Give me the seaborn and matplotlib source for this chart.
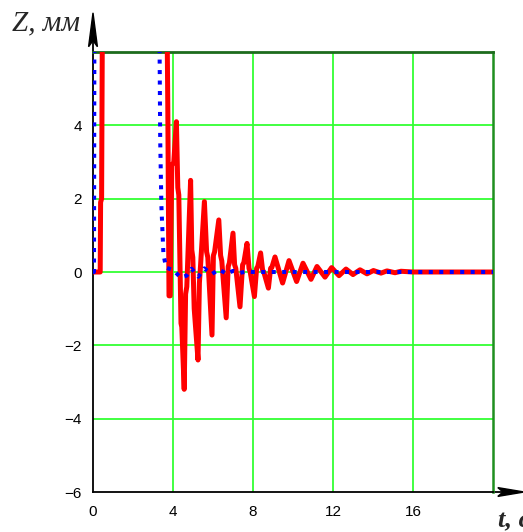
import numpy as np
import pandas as pd
import matplotlib
matplotlib.use("Agg")
import matplotlib.pyplot as plt
from matplotlib.patches import Polygon
import seaborn as sns

# ---- data ----
red_t = [0.00, 0.36, 0.38, 0.43, 0.47, 3.70, 3.74, 3.80, 3.86, 3.94, 4.04, 4.17,
         4.24, 4.29, 4.40, 4.44, 4.56, 4.63, 4.69, 4.88, 4.94, 4.99, 5.06, 5.25,
         5.32, 5.38, 5.57, 5.68, 5.74, 5.95, 6.02, 6.08, 6.29, 6.38, 6.44, 6.66,
         6.76, 6.82, 7.00, 7.08, 7.14, 7.35, 7.48, 7.54, 7.70, 7.80, 7.86, 8.07,
         8.18, 8.24, 8.38, 8.48, 8.54, 8.77, 8.88, 8.94, 9.10, 9.48, 9.80, 10.18,
         10.50, 10.90, 11.20, 11.60, 11.93, 12.30, 12.65, 13.00, 13.35, 13.70,
         14.02, 14.40, 14.70, 15.10, 15.40, 16.00, 20.00]
red_z = [0.00, 0.00, 1.90, 2.00, 7.00, 7.00, 4.50, -0.65, -0.65, 2.90, 3.00, 4.10,
         2.30, 2.10, -1.40, -1.50, -3.20, -0.60, -0.40, 2.50, 0.60, 0.40, -1.00, -2.40,
         -0.30, 0.20, 1.92, 0.55, 0.40, -1.72, 0.45, 0.55, 1.42, 0.45, 0.30, -1.25,
         0.15, 0.25, 1.06, 0.20, 0.10, -0.95, 0.20, 0.25, 0.78, 0.10, 0.00, -0.67,
         0.10, 0.15, 0.52, 0.05, 0.00, -0.44, 0.10, 0.12, 0.41, -0.30, 0.31, -0.26,
         0.24, -0.20, 0.15, -0.14, 0.12, -0.10, 0.08, -0.07, 0.06, -0.05,
         0.04, -0.03, 0.03, -0.02, 0.02, 0.00, 0.00]

blue_t = [0.00, 0.05, 0.07, 3.30, 3.33, 3.36, 3.42, 3.52, 3.65, 4.02, 4.38, 4.68,
          4.93, 5.27, 5.57, 5.93, 6.30, 6.68, 7.00, 7.35, 7.70, 8.00, 20.00]
blue_z = [0.00, 0.00, 7.00, 7.00, 6.00, 3.60, 1.80, 0.50, 0.12, 0.05, -0.15, -0.10,
          0.09, -0.13, 0.10, -0.06, 0.07, -0.05, 0.03, -0.02, 0.01, 0.00, 0.00]

x_ticks = [0, 4, 8, 12, 16]
y_ticks = [-6, -4, -2, 0, 2, 4]
y_grid = [-4, -2, 0, 2, 4]
x_grid = [4, 8, 12, 16]
x_label = "t, с"
y_label = "Z, мм"

red_df = pd.DataFrame({"t": red_t, "z": red_z})
blue_df = pd.DataFrame({"t": blue_t, "z": blue_z})

sns.set_style("white")
plt.rcParams["font.family"] = ["Liberation Sans", "DejaVu Sans"]

fig = plt.figure(figsize=(5.23, 5.32), dpi=100)
ax = fig.add_axes([93 / 523, 40 / 532, 400 / 523, 440 / 532])

GRID = "#33ff33"
for gx in x_grid:
    ax.axvline(gx, color=GRID, lw=1.3, zorder=1)
for gy in y_grid:
    ax.axhline(gy, color=GRID, lw=1.3, zorder=1)

sns.lineplot(data=red_df, x="t", y="z", ax=ax, estimator=None, sort=False,
             color="#ff0000", lw=3.6, zorder=3)
sns.lineplot(data=blue_df, x="t", y="z", ax=ax, estimator=None, sort=False,
             color="#0000ff", lw=2.9, zorder=4)
ax.lines[-1].set_linestyle((0, (1, 1.6)))
ax.lines[-1].set_dash_capstyle("butt")

ax.set_xlim(0, 20)
ax.set_ylim(-6, 6)
ax.set_xticks(x_ticks)
ax.set_yticks(y_ticks)
ax.set_xlabel("")
ax.set_ylabel("")
ax.tick_params(axis="both", length=0, labelsize=11, colors="black")
ax.tick_params(axis="x", pad=9)
ax.tick_params(axis="y", pad=8)

for side in ["left", "bottom"]:
    ax.spines[side].set_color("black")
    ax.spines[side].set_linewidth(1.3)
ax.spines["top"].set_color("#1d6b1d")
ax.spines["top"].set_linewidth(2.0)
ax.spines["right"].set_color("#1f8f1f")
ax.spines["right"].set_linewidth(1.8)

# axis arrows (Mathcad style)
ax.plot([0, 0], [1.0, 1.05], transform=ax.transAxes, color="black", lw=1.3, clip_on=False)
ax.add_patch(Polygon([(0, 1.089), (0.011, 1.012), (0, 1.026), (-0.011, 1.012)],
                     closed=True, transform=ax.transAxes, color="black", clip_on=False, zorder=6))
ax.plot([1.0, 1.04], [0, 0], transform=ax.transAxes, color="black", lw=1.3, clip_on=False)
ax.add_patch(Polygon([(1.078, 0), (1.012, 0.010), (1.025, 0), (1.012, -0.010)],
                     closed=True, transform=ax.transAxes, color="black", clip_on=False, zorder=6))

fig.text(12 / 523, (532 - 30) / 532, y_label, fontsize=21, style="italic",
         family=["Liberation Serif", "DejaVu Serif"], ha="left", va="baseline")
fig.text(498 / 523, (532 - 527) / 532, x_label, fontsize=19, style="italic", weight="bold",
         family=["Liberation Serif", "DejaVu Serif"], ha="left", va="baseline")

fig.savefig("out.png", dpi=100)
